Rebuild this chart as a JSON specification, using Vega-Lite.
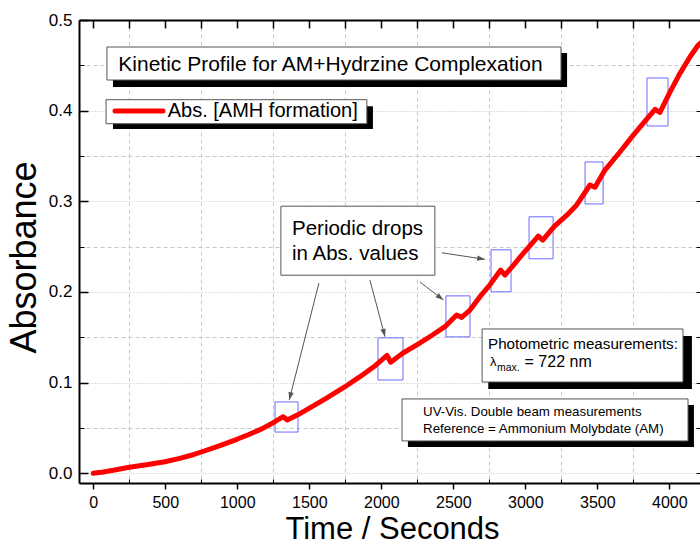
{
  "$schema": "https://vega.github.io/schema/vega-lite/v6.json",
  "width": 623,
  "height": 463,
  "autosize": {"type": "none"},
  "padding": {"left": 79, "top": 20, "right": 0, "bottom": 61},
  "background": "white",
  "config": {"view": {"stroke": null}, "font": "Liberation Sans", "axis": {"labelFlush": false, "labelColor": "#000", "titleColor": "#000", "tickColor": "#000", "domainColor": "#000"}},
  "resolve": {"axis": {"x": "independent", "y": "independent"}},
  "layer": [
    {
      "data": {"values": [
        {"x1": 1262, "x2": 1422, "y1": 0.0787, "y2": 0.0455},
        {"x1": 1977, "x2": 2151, "y1": 0.1494, "y2": 0.1029},
        {"x1": 2449, "x2": 2616, "y1": 0.1957, "y2": 0.1505},
        {"x1": 2762, "x2": 2901, "y1": 0.2465, "y2": 0.2002},
        {"x1": 3026, "x2": 3193, "y1": 0.2829, "y2": 0.2366},
        {"x1": 3415, "x2": 3540, "y1": 0.3434, "y2": 0.2971},
        {"x1": 3845, "x2": 3991, "y1": 0.4360, "y2": 0.3831}
      ]},
      "mark": {"type": "rect", "fillOpacity": 0, "stroke": "#6b6bff", "strokeWidth": 1},
      "encoding": {
        "x": {"field": "x1", "type": "quantitative", "scale": {"domain": [-99, 4227], "nice": false, "zero": false},
          "axis": {"orient": "bottom", "values": [250, 750, 1250, 1750, 2250, 2750, 3250, 3750], "labels": false, "domain": false, "ticks": true, "tickSize": -4, "tickWidth": 1, "grid": true, "gridDash": [4, 3], "gridColor": "#c8c8c8", "title": null}},
        "x2": {"field": "x2"},
        "y": {"field": "y1", "type": "quantitative", "scale": {"domain": [-0.0107, 0.5], "nice": false, "zero": false},
          "axis": {"orient": "left", "values": [0.05, 0.15, 0.25, 0.35, 0.45], "labels": false, "domain": false, "ticks": true, "tickSize": -5, "tickWidth": 1, "grid": true, "gridDash": [4, 3], "gridColor": "#c8c8c8", "title": null}},
        "y2": {"field": "y2"}
      }
    },
    {
      "data": {"values": [
        {"t": 0, "a": 0},
        {"t": 70, "a": 0.0015},
        {"t": 139, "a": 0.0033},
        {"t": 250, "a": 0.0066},
        {"t": 370, "a": 0.0095},
        {"t": 498, "a": 0.0128},
        {"t": 600, "a": 0.0165},
        {"t": 694, "a": 0.0205},
        {"t": 750, "a": 0.0235},
        {"t": 870, "a": 0.030},
        {"t": 998, "a": 0.0375},
        {"t": 1076, "a": 0.0425},
        {"t": 1170, "a": 0.049},
        {"t": 1250, "a": 0.0558},
        {"t": 1319, "a": 0.0624},
        {"t": 1347, "a": 0.0588},
        {"t": 1420, "a": 0.0645},
        {"t": 1498, "a": 0.0717},
        {"t": 1620, "a": 0.083},
        {"t": 1748, "a": 0.0955},
        {"t": 1852, "a": 0.1066},
        {"t": 1960, "a": 0.119},
        {"t": 2040, "a": 0.1300},
        {"t": 2065, "a": 0.1225},
        {"t": 2151, "a": 0.1327},
        {"t": 2250, "a": 0.142},
        {"t": 2350, "a": 0.152},
        {"t": 2442, "a": 0.1617},
        {"t": 2523, "a": 0.1746},
        {"t": 2558, "a": 0.172},
        {"t": 2616, "a": 0.180},
        {"t": 2685, "a": 0.1948},
        {"t": 2750, "a": 0.207},
        {"t": 2829, "a": 0.2242},
        {"t": 2859, "a": 0.2187},
        {"t": 2920, "a": 0.230},
        {"t": 2986, "a": 0.2427},
        {"t": 3090, "a": 0.2617},
        {"t": 3121, "a": 0.2573},
        {"t": 3200, "a": 0.272},
        {"t": 3290, "a": 0.285},
        {"t": 3357, "a": 0.296},
        {"t": 3449, "a": 0.318},
        {"t": 3484, "a": 0.3155},
        {"t": 3553, "a": 0.3345},
        {"t": 3650, "a": 0.353},
        {"t": 3750, "a": 0.373},
        {"t": 3840, "a": 0.390},
        {"t": 3901, "a": 0.4015},
        {"t": 3935, "a": 0.398},
        {"t": 4000, "a": 0.419},
        {"t": 4070, "a": 0.44},
        {"t": 4144, "a": 0.4595},
        {"t": 4201, "a": 0.4724},
        {"t": 4227, "a": 0.476}
      ]},
      "mark": {"type": "line", "color": "#ff0000", "strokeWidth": 5, "strokeJoin": "round", "strokeCap": "round", "clip": true},
      "encoding": {
        "x": {"field": "t", "type": "quantitative", "scale": {"domain": [-99, 4227], "nice": false, "zero": false},
          "axis": {"orient": "bottom", "values": [0, 500, 1000, 1500, 2000, 2500, 3000, 3500, 4000], "format": "d", "title": "Time / Seconds", "grid": false, "domain": true, "domainWidth": 2, "ticks": true, "tickSize": 6, "tickWidth": 1.5, "labelFontSize": 16, "labelPadding": 5, "titleFontSize": 31, "titleFontWeight": "normal", "titleX": 313, "titleY": 55, "titleBaseline": "alphabetic", "titleAlign": "center"}},
        "y": {"field": "a", "type": "quantitative", "scale": {"domain": [-0.0107, 0.5], "nice": false, "zero": false},
          "axis": {"orient": "left", "values": [0, 0.1, 0.2, 0.3, 0.4, 0.5], "format": ".1f", "title": "Absorbance", "grid": true, "gridDash": [1, 2], "gridColor": "#c0c0c0", "domain": true, "domainWidth": 2, "ticks": false, "labelFontSize": 17, "labelPadding": 7, "titleFontSize": 36, "titleFontWeight": "normal", "titleX": -44, "titleY": 237, "titleAngle": -90, "titleBaseline": "alphabetic", "titleAlign": "center"}}
      }
    },
    {
      "data": {"values": [
        {"x1": 1567, "y1": 0.2099, "x2": 1361, "y2": 0.0809},
        {"x1": 1921, "y1": 0.2132, "x2": 2026, "y2": 0.1507},
        {"x1": 2269, "y1": 0.2110, "x2": 2431, "y2": 0.1912},
        {"x1": 2419, "y1": 0.2433, "x2": 2720, "y2": 0.2360}
      ]},
      "mark": {"type": "rule", "color": "#555555", "strokeWidth": 1},
      "encoding": {
        "x": {"field": "x1", "type": "quantitative", "scale": {"domain": [-99, 4227], "nice": false, "zero": false},
          "axis": {"orient": "top", "values": [0, 250, 500, 750, 1000, 1250, 1500, 1750, 2000, 2250, 2500, 2750, 3000, 3250, 3500, 3750, 4000], "labels": false, "domain": true, "domainWidth": 2, "ticks": true, "tickSize": -8, "tickWidth": 1.5, "grid": false, "title": null}},
        "x2": {"field": "x2"},
        "y": {"field": "y1", "type": "quantitative", "scale": {"domain": [-0.0107, 0.5], "nice": false, "zero": false},
          "axis": {"orient": "right", "values": [0, 0.05, 0.1, 0.15, 0.2, 0.25, 0.3, 0.35, 0.4, 0.45, 0.5], "labels": false, "domain": true, "domainWidth": 2, "ticks": true, "tickSize": -6, "tickWidth": 1, "grid": false, "title": null}},
        "y2": {"field": "y2"}
      }
    },
    {
      "data": {"values": [{"x": 1361, "y": 0.0809}]},
      "mark": {"type": "point", "shape": "M0,0L-0.45,1.3L0.45,1.3Z", "filled": true, "color": "#555555", "opacity": 1, "size": 144, "angle": 194},
      "encoding": {
        "x": {"field": "x", "type": "quantitative", "scale": {"domain": [-99, 4227], "nice": false, "zero": false}, "axis": null},
        "y": {"field": "y", "type": "quantitative", "scale": {"domain": [-0.0107, 0.5], "nice": false, "zero": false}, "axis": null}
      }
    },
    {
      "data": {"values": [{"x": 2026, "y": 0.1507}]},
      "mark": {"type": "point", "shape": "M0,0L-0.45,1.3L0.45,1.3Z", "filled": true, "color": "#555555", "opacity": 1, "size": 144, "angle": 165},
      "encoding": {
        "x": {"field": "x", "type": "quantitative", "scale": {"domain": [-99, 4227], "nice": false, "zero": false}, "axis": null},
        "y": {"field": "y", "type": "quantitative", "scale": {"domain": [-0.0107, 0.5], "nice": false, "zero": false}, "axis": null}
      }
    },
    {
      "data": {"values": [{"x": 2431, "y": 0.1912}]},
      "mark": {"type": "point", "shape": "M0,0L-0.45,1.3L0.45,1.3Z", "filled": true, "color": "#555555", "opacity": 1, "size": 144, "angle": 128},
      "encoding": {
        "x": {"field": "x", "type": "quantitative", "scale": {"domain": [-99, 4227], "nice": false, "zero": false}, "axis": null},
        "y": {"field": "y", "type": "quantitative", "scale": {"domain": [-0.0107, 0.5], "nice": false, "zero": false}, "axis": null}
      }
    },
    {
      "data": {"values": [{"x": 2720, "y": 0.2360}]},
      "mark": {"type": "point", "shape": "M0,0L-0.45,1.3L0.45,1.3Z", "filled": true, "color": "#555555", "opacity": 1, "size": 144, "angle": 99},
      "encoding": {
        "x": {"field": "x", "type": "quantitative", "scale": {"domain": [-99, 4227], "nice": false, "zero": false}, "axis": null},
        "y": {"field": "y", "type": "quantitative", "scale": {"domain": [-0.0107, 0.5], "nice": false, "zero": false}, "axis": null}
      }
    },
    {
      "data": {"values": [
        {"x1": 137, "x2": 3290, "y1": 0.4636, "y2": 0.4261},
        {"x1": 137, "x2": 1942, "y1": 0.4049, "y2": 0.3797},
        {"x1": 2743, "x2": 4157, "y1": 0.1514, "y2": 0.0930},
        {"x1": 2185, "x2": 4171, "y1": 0.0753, "y2": 0.0290}
      ]},
      "mark": {"type": "rect", "fill": "#000000"},
      "encoding": {
        "x": {"field": "x1", "type": "quantitative", "scale": {"domain": [-99, 4227], "nice": false, "zero": false}, "axis": null},
        "x2": {"field": "x2"},
        "y": {"field": "y1", "type": "quantitative", "scale": {"domain": [-0.0107, 0.5], "nice": false, "zero": false},
          "axis": {"orient": "left", "values": [0, 0.1, 0.2, 0.3, 0.4, 0.5], "labels": false, "domain": false, "ticks": true, "tickSize": -9, "tickWidth": 1.5, "grid": false, "title": null}},
        "y2": {"field": "y2"}
      }
    },
    {
      "data": {"values": [
        {"x1": 95, "x2": 3248, "y1": 0.4702, "y2": 0.4338},
        {"x1": 89, "x2": 1900, "y1": 0.4121, "y2": 0.3856},
        {"x1": 1303, "x2": 2372, "y1": 0.2946, "y2": 0.2185},
        {"x1": 2700, "x2": 4095, "y1": 0.1592, "y2": 0.1007},
        {"x1": 2144, "x2": 4130, "y1": 0.0820, "y2": 0.0357}
      ]},
      "mark": {"type": "rect", "fill": "#ffffff", "stroke": "#555555", "strokeWidth": 1},
      "encoding": {
        "x": {"field": "x1", "type": "quantitative", "scale": {"domain": [-99, 4227], "nice": false, "zero": false}, "axis": null},
        "x2": {"field": "x2"},
        "y": {"field": "y1", "type": "quantitative", "scale": {"domain": [-0.0107, 0.5], "nice": false, "zero": false}, "axis": null},
        "y2": {"field": "y2"}
      }
    },
    {
      "data": {"values": [{"x1": 151, "x2": 484, "y": 0.3996}]},
      "mark": {"type": "rule", "color": "#ff0000", "strokeWidth": 5, "strokeCap": "round"},
      "encoding": {
        "x": {"field": "x1", "type": "quantitative", "scale": {"domain": [-99, 4227], "nice": false, "zero": false}, "axis": null},
        "x2": {"field": "x2"},
        "y": {"field": "y", "type": "quantitative", "scale": {"domain": [-0.0107, 0.5], "nice": false, "zero": false}, "axis": null}
      }
    },
    {
      "data": {"values": [{"x": 174, "y": 0.4437, "s": "Kinetic Profile for AM+Hydrzine Complexation"}]},
      "mark": {"type": "text", "align": "left", "baseline": "alphabetic", "fontSize": 21, "color": "#000"},
      "encoding": {
        "x": {"field": "x", "type": "quantitative", "scale": {"domain": [-99, 4227], "nice": false, "zero": false}, "axis": null},
        "y": {"field": "y", "type": "quantitative", "scale": {"domain": [-0.0107, 0.5], "nice": false, "zero": false}, "axis": null},
        "text": {"field": "s"}
      }
    },
    {
      "data": {"values": [{"x": 517, "y": 0.3930, "s": "Abs. [AMH formation]"}]},
      "mark": {"type": "text", "align": "left", "baseline": "alphabetic", "fontSize": 20, "color": "#000"},
      "encoding": {
        "x": {"field": "x", "type": "quantitative", "scale": {"domain": [-99, 4227], "nice": false, "zero": false}, "axis": null},
        "y": {"field": "y", "type": "quantitative", "scale": {"domain": [-0.0107, 0.5], "nice": false, "zero": false}, "axis": null},
        "text": {"field": "s"}
      }
    },
    {
      "data": {"values": [
        {"x": 1380, "y": 0.2629, "s": "Periodic drops"},
        {"x": 1380, "y": 0.2353, "s": "in Abs. values"}
      ]},
      "mark": {"type": "text", "align": "left", "baseline": "alphabetic", "fontSize": 20.5, "color": "#000"},
      "encoding": {
        "x": {"field": "x", "type": "quantitative", "scale": {"domain": [-99, 4227], "nice": false, "zero": false}, "axis": null},
        "y": {"field": "y", "type": "quantitative", "scale": {"domain": [-0.0107, 0.5], "nice": false, "zero": false}, "axis": null},
        "text": {"field": "s"}
      }
    },
    {
      "data": {"values": [{"x": 2741, "y": 0.1368, "s": "Photometric measurements:"}]},
      "mark": {"type": "text", "align": "left", "baseline": "alphabetic", "fontSize": 15.2, "color": "#000"},
      "encoding": {
        "x": {"field": "x", "type": "quantitative", "scale": {"domain": [-99, 4227], "nice": false, "zero": false}, "axis": null},
        "y": {"field": "y", "type": "quantitative", "scale": {"domain": [-0.0107, 0.5], "nice": false, "zero": false}, "axis": null},
        "text": {"field": "s"}
      }
    },
    {
      "data": {"values": [{"x": 2755, "y": 0.1184, "s": "λ"}]},
      "mark": {"type": "text", "align": "left", "baseline": "alphabetic", "fontSize": 13, "color": "#000"},
      "encoding": {
        "x": {"field": "x", "type": "quantitative", "scale": {"domain": [-99, 4227], "nice": false, "zero": false}, "axis": null},
        "y": {"field": "y", "type": "quantitative", "scale": {"domain": [-0.0107, 0.5], "nice": false, "zero": false}, "axis": null},
        "text": {"field": "s"}
      }
    },
    {
      "data": {"values": [{"x": 2803, "y": 0.1128, "s": "max."}]},
      "mark": {"type": "text", "align": "left", "baseline": "alphabetic", "fontSize": 10.5, "color": "#000"},
      "encoding": {
        "x": {"field": "x", "type": "quantitative", "scale": {"domain": [-99, 4227], "nice": false, "zero": false}, "axis": null},
        "y": {"field": "y", "type": "quantitative", "scale": {"domain": [-0.0107, 0.5], "nice": false, "zero": false}, "axis": null},
        "text": {"field": "s"}
      }
    },
    {
      "data": {"values": [{"x": 2995, "y": 0.1173, "s": "= 722 nm"}]},
      "mark": {"type": "text", "align": "left", "baseline": "alphabetic", "fontSize": 16, "color": "#000"},
      "encoding": {
        "x": {"field": "x", "type": "quantitative", "scale": {"domain": [-99, 4227], "nice": false, "zero": false}, "axis": null},
        "y": {"field": "y", "type": "quantitative", "scale": {"domain": [-0.0107, 0.5], "nice": false, "zero": false}, "axis": null},
        "text": {"field": "s"}
      }
    },
    {
      "data": {"values": [
        {"x": 2290, "y": 0.0632, "s": "UV-Vis. Double beam measurements"},
        {"x": 2290, "y": 0.0448, "s": "Reference = Ammonium Molybdate (AM)"}
      ]},
      "mark": {"type": "text", "align": "left", "baseline": "alphabetic", "fontSize": 13.3, "color": "#000"},
      "encoding": {
        "x": {"field": "x", "type": "quantitative", "scale": {"domain": [-99, 4227], "nice": false, "zero": false}, "axis": null},
        "y": {"field": "y", "type": "quantitative", "scale": {"domain": [-0.0107, 0.5], "nice": false, "zero": false}, "axis": null},
        "text": {"field": "s"}
      }
    }
  ]
}
